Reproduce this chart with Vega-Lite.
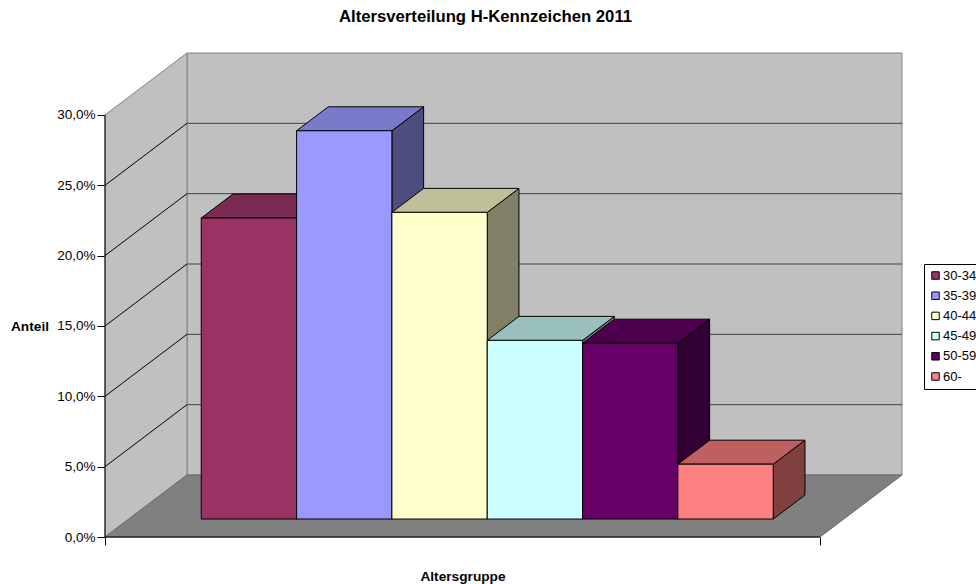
{
"$schema":"https://vega.github.io/schema/vega-lite/v6.json",
"width":797,"height":484,
"autosize":{"type":"none"},
"padding":{"left":105,"top":53,"right":74,"bottom":47},
"background":"white",
"config":{"view":{"stroke":null},"font":"Liberation Sans"},
"title":{"text":"Altersverteilung H-Kennzeichen 2011","anchor":"middle","dx":-18,"offset":25,"font":"Liberation Sans","fontSize":16.7,"fontWeight":"bold","color":"#000"},
"datasets":{
"balken":[
{"gruppe":"30-34","pos":0.76,"anteil":21.4,"tiefe":[0.29,0.677]},
{"gruppe":"35-39","pos":1.76,"anteil":27.6,"tiefe":[0.29,0.677]},
{"gruppe":"40-44","pos":2.76,"anteil":21.8,"tiefe":[0.29,0.677]},
{"gruppe":"45-49","pos":3.76,"anteil":12.7,"tiefe":[0.29,0.677]},
{"gruppe":"50-59","pos":4.76,"anteil":12.5,"tiefe":[0.29,0.677]},
{"gruppe":"60-","pos":5.76,"anteil":3.9,"tiefe":[0.29,0.677]}
],
"raster":[
{"v":5,"t":[0,1]},{"v":10,"t":[0,1]},{"v":15,"t":[0,1]},{"v":20,"t":[0,1]},{"v":25,"t":[0,1]}
],
"seitenwand":[{"x":0,"y":0,"y2":30},{"x":0.86,"y":4.406,"y2":34.406}],
"rueckwand":[{"x":0.86,"x2":8.36,"y":4.406,"y2":34.406}],
"boden":[{"y":0,"x":0,"x2":7.5},{"y":4.406,"x":0.86,"x2":8.36}],
"achseX":[{"x":0,"y":0},{"x":7.5,"y":0}],
"achseY":[{"x":0,"y":0},{"x":0,"y":30}]
},
"encoding":{
"x":{"field":"x","type":"quantitative","title":"Altersgruppe","scale":{"domain":[0,8.36],"nice":false,"zero":false},
"axis":{"values":[0,7.5],"labels":false,"domain":false,"grid":false,"ticks":true,"tickSize":8,"tickColor":"#000","tickWidth":1,"titleX":357.5,"titleY":39,"titleAlign":"center","titleBaseline":"middle","titleFont":"Liberation Sans","titleFontSize":13.7,"titleFontWeight":"bold","titleColor":"#000"}},
"y":{"field":"y","type":"quantitative","title":"Anteil","scale":{"domain":[0,34.406],"nice":false,"zero":false},
"axis":{"values":[0,5,10,15,20,25,30],"labelExpr":"replace(format(datum.value,'.1f'),'.',',')+'%'","domain":false,"grid":false,"tickSize":8,"tickColor":"#000","tickWidth":1,"labelPadding":2,"labelFont":"Liberation Sans","labelFontSize":13.5,"labelColor":"#000","titleAngle":0,"titleX":-75.5,"titleY":273,"titleAlign":"center","titleBaseline":"middle","titleFont":"Liberation Sans","titleFontSize":13.7,"titleFontWeight":"bold","titleColor":"#000"}}
},
"layer":[
{"data":{"name":"rueckwand"},"mark":{"type":"rect","fill":"#c0c0c0","stroke":"#808080","strokeWidth":1},"encoding":{"x2":{"field":"x2"},"y2":{"field":"y2"}}},
{"data":{"name":"seitenwand"},"mark":{"type":"area","fill":"#c0c0c0","stroke":"#808080","strokeWidth":1},"encoding":{"y2":{"field":"y2"}}},
{"data":{"name":"boden"},"mark":{"type":"area","orient":"horizontal","fill":"#808080","stroke":"#696969","strokeWidth":1},"encoding":{"x2":{"field":"x2"}}},
{"data":{"name":"raster"},"transform":[{"flatten":["t"]},{"calculate":"datum.t*0.86","as":"x"},{"calculate":"datum.v+datum.t*4.406","as":"y"}],"mark":{"type":"line","stroke":"#000","strokeWidth":1},"encoding":{"detail":{"field":"v"}}},
{"data":{"name":"raster"},"transform":[{"flatten":["t"]},{"calculate":"0.86+datum.t*7.5","as":"x"},{"calculate":"datum.v+4.406","as":"y"}],"mark":{"type":"line","stroke":"#404040","strokeWidth":1},"encoding":{"detail":{"field":"v"}}},
{"data":{"name":"achseX"},"mark":{"type":"line","stroke":"#000","strokeWidth":1},"encoding":{}},
{"data":{"name":"achseY"},"mark":{"type":"line","stroke":"#000","strokeWidth":1},"encoding":{}},
{"data":{"name":"balken"},"transform":[{"flatten":["tiefe"]},{"calculate":"datum.pos+1+datum.tiefe*0.86","as":"x"},{"calculate":"datum.anteil+datum.tiefe*4.406","as":"y"},{"calculate":"datum.tiefe*4.406","as":"y2"}],
"mark":{"type":"area","stroke":"#000","strokeWidth":1},
"encoding":{"y2":{"field":"y2"},"fill":{"field":"gruppe","type":"nominal","legend":null,"scale":{"range":["#4d1a33","#4d4d80","#808066","#668080","#330033","#804040"]}}}},
{"data":{"name":"balken"},"transform":[{"flatten":["tiefe"]},{"calculate":"datum.pos+datum.tiefe*0.86","as":"x"},{"calculate":"datum.pos+1+datum.tiefe*0.86","as":"x2"},{"calculate":"datum.anteil+datum.tiefe*4.406","as":"y"}],
"mark":{"type":"area","orient":"horizontal","stroke":"#000","strokeWidth":1},
"encoding":{"x2":{"field":"x2"},"fill":{"field":"gruppe","type":"nominal","legend":null,"scale":{"range":["#7a2952","#7a7acc","#bfbf99","#99bfbf","#4d004d","#bf6060"]}}}},
{"data":{"name":"balken"},"transform":[{"calculate":"datum.pos+0.2494","as":"x"},{"calculate":"datum.pos+1.2494","as":"x2"},{"calculate":"datum.anteil+1.278","as":"y"},{"calculate":"1.278","as":"y2"}],
"mark":{"type":"rect","stroke":"#000","strokeWidth":1},
"encoding":{"x2":{"field":"x2"},"y2":{"field":"y2"},"fill":{"field":"gruppe","type":"nominal","title":null,"scale":{"range":["#993366","#9999ff","#ffffcc","#ccffff","#660066","#ff8080"]},
"legend":{"orient":"none","legendX":819,"legendY":211,"fillColor":"#fff","strokeColor":"#000","padding":5,"rowPadding":6.2,"symbolType":"square","symbolSize":56,"symbolStrokeColor":"#000","symbolStrokeWidth":1,"labelFont":"Liberation Sans","labelFontSize":13,"labelColor":"#000","labelOffset":1,"symbolOpacity":1}}}}
],
"resolve":{"scale":{"fill":"independent"}}
}
